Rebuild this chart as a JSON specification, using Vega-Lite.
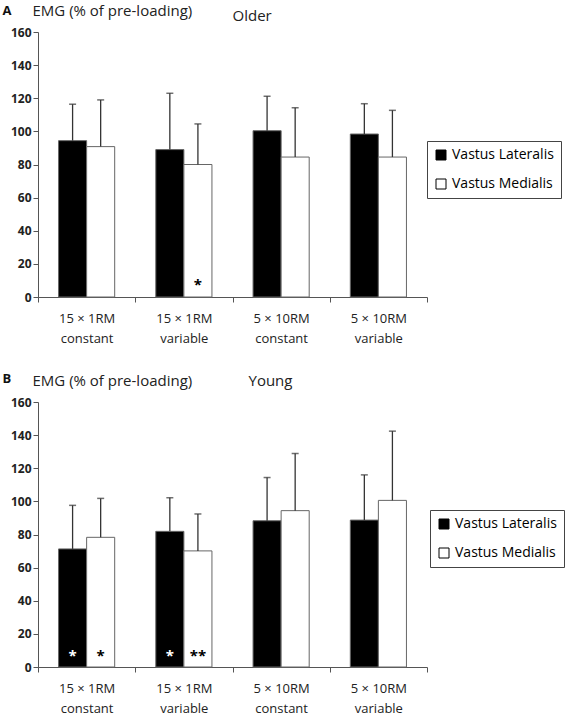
{
  "$schema": "https://vega.github.io/schema/vega-lite/v6.json",
  "background": "white",
  "padding": {"left": 2, "top": 3, "right": 0, "bottom": 0},
  "config": {"font": "Open Sans", "view": {"stroke": null}},
  "datasets": {
    "emg": [
      {"panel": "A", "cond": "15 × 1RM|constant", "muscle": "Vastus Lateralis", "mean": 94.4, "upper": 116.4, "sig": ""},
      {"panel": "A", "cond": "15 × 1RM|constant", "muscle": "Vastus Medialis", "mean": 90.8, "upper": 119.0, "sig": ""},
      {"panel": "A", "cond": "15 × 1RM|variable", "muscle": "Vastus Lateralis", "mean": 89.0, "upper": 123.0, "sig": ""},
      {"panel": "A", "cond": "15 × 1RM|variable", "muscle": "Vastus Medialis", "mean": 80.0, "upper": 104.5, "sig": "*"},
      {"panel": "A", "cond": "5 × 10RM|constant", "muscle": "Vastus Lateralis", "mean": 100.4, "upper": 121.2, "sig": ""},
      {"panel": "A", "cond": "5 × 10RM|constant", "muscle": "Vastus Medialis", "mean": 84.5, "upper": 114.3, "sig": ""},
      {"panel": "A", "cond": "5 × 10RM|variable", "muscle": "Vastus Lateralis", "mean": 98.4, "upper": 116.7, "sig": ""},
      {"panel": "A", "cond": "5 × 10RM|variable", "muscle": "Vastus Medialis", "mean": 84.5, "upper": 112.7, "sig": ""},
      {"panel": "B", "cond": "15 × 1RM|constant", "muscle": "Vastus Lateralis", "mean": 71.3, "upper": 97.6, "sig": "*"},
      {"panel": "B", "cond": "15 × 1RM|constant", "muscle": "Vastus Medialis", "mean": 78.3, "upper": 101.8, "sig": "*"},
      {"panel": "B", "cond": "15 × 1RM|variable", "muscle": "Vastus Lateralis", "mean": 81.9, "upper": 102.2, "sig": "*"},
      {"panel": "B", "cond": "15 × 1RM|variable", "muscle": "Vastus Medialis", "mean": 70.1, "upper": 92.4, "sig": "**"},
      {"panel": "B", "cond": "5 × 10RM|constant", "muscle": "Vastus Lateralis", "mean": 88.3, "upper": 114.4, "sig": ""},
      {"panel": "B", "cond": "5 × 10RM|constant", "muscle": "Vastus Medialis", "mean": 94.4, "upper": 128.9, "sig": ""},
      {"panel": "B", "cond": "5 × 10RM|variable", "muscle": "Vastus Lateralis", "mean": 88.7, "upper": 116.0, "sig": ""},
      {"panel": "B", "cond": "5 × 10RM|variable", "muscle": "Vastus Medialis", "mean": 100.6, "upper": 142.4, "sig": ""}
    ]
  },
  "bounds": "flush",
  "spacing": 105,
  "resolve": {"legend": {"fill": "independent"}},
  "vconcat": [
    {
      "width": 389,
      "height": 265,
      "data": {"name": "emg"},
      "transform": [{"filter": "datum.panel == 'A'"}],
      "resolve": {"scale": {"y": "independent"}},
      "encoding": {
        "x": {
          "field": "cond", "type": "nominal",
          "sort": ["15 × 1RM|constant", "15 × 1RM|variable", "5 × 10RM|constant", "5 × 10RM|variable"],
          "scale": {"paddingInner": 0, "paddingOuter": 0},
          "axis": {"title": "A", "titleX": -36, "titleY": -283, "titleAlign": "left", "titleBaseline": "alphabetic", "titleAngle": 0, "titleFontSize": 13, "titleFontWeight": "bold", "titleColor": "#111",
            "labelAngle": 0, "labelExpr": "split(datum.label, '|')", "labelFontSize": 13, "labelLineHeight": 20, "labelPadding": 10, "labelColor": "#222",
            "tickBand": "extent", "tickSize": 5, "domainColor": "#555", "tickColor": "#555"}
        },
        "xOffset": {"field": "muscle", "type": "nominal", "sort": ["Vastus Lateralis", "Vastus Medialis"], "scale": {"paddingInner": 0, "paddingOuter": 0.732}}
      },
      "layer": [
        {
          "mark": {"type": "bar", "stroke": "#666", "strokeWidth": 1},
          "encoding": {
            "y": {"field": "mean", "type": "quantitative", "scale": {"domain": [0, 160]},
              "axis": {"title": "EMG (% of pre-loading)", "titleAngle": 0, "titleX": -6, "titleY": -17, "titleAlign": "left", "titleBaseline": "alphabetic", "titleFontSize": 15, "titleFontWeight": "normal", "titleColor": "#222",
                "values": [0, 20, 40, 60, 80, 100, 120, 140, 160], "labelOverlap": false, "grid": false, "labelFontWeight": "bold", "labelFontSize": 12, "labelColor": "#222", "tickSize": 5, "domainColor": "#555", "tickColor": "#555"}},
            "fill": {"field": "muscle", "type": "nominal", "scale": {"domain": ["Vastus Lateralis", "Vastus Medialis"], "range": ["black", "white"]},
              "legend": {"title": null, "orient": "none", "legendX": 389, "legendY": 109, "strokeColor": "#444", "fillColor": "white", "padding": 7, "symbolType": "square", "symbolSize": 100, "symbolStrokeColor": "black", "symbolStrokeWidth": 1, "labelFontSize": 14, "labelColor": "black", "rowPadding": 15, "labelOffset": 4}}
          }
        },
        {
          "mark": {"type": "rule", "color": "#333", "strokeWidth": 1.3},
          "encoding": {"y": {"field": "mean", "type": "quantitative", "scale": {"domain": [0, 160]}, "axis": null}, "y2": {"field": "upper"}}
        },
        {
          "mark": {"type": "tick", "color": "#333", "thickness": 1.5, "size": 7},
          "encoding": {"y": {"field": "upper", "type": "quantitative", "scale": {"domain": [0, 160]},
            "axis": {"orient": "right", "title": "Older", "domain": false, "ticks": false, "labels": false, "grid": false, "titleAngle": 0, "titleX": -195, "titleY": -12, "titleAlign": "left", "titleBaseline": "alphabetic", "titleFontSize": 15, "titleFontWeight": "normal", "titleColor": "#222"}}}
        },
        {
          "transform": [{"filter": "datum.sig != ''"}],
          "mark": {"type": "text", "baseline": "alphabetic", "dy": -7, "fontSize": 15, "fontWeight": "bold"},
          "encoding": {
            "y": {"datum": 0, "type": "quantitative", "scale": {"domain": [0, 160]}, "axis": null},
            "text": {"field": "sig"},
            "color": {"condition": {"test": "datum.muscle == 'Vastus Lateralis'", "value": "white"}, "value": "black"}
          }
        }
      ]
    },
    {
      "width": 389,
      "height": 265,
      "data": {"name": "emg"},
      "transform": [{"filter": "datum.panel == 'B'"}],
      "resolve": {"scale": {"y": "independent"}},
      "encoding": {
        "x": {
          "field": "cond", "type": "nominal",
          "sort": ["15 × 1RM|constant", "15 × 1RM|variable", "5 × 10RM|constant", "5 × 10RM|variable"],
          "scale": {"paddingInner": 0, "paddingOuter": 0},
          "axis": {"title": "B", "titleX": -36, "titleY": -285, "titleAlign": "left", "titleBaseline": "alphabetic", "titleAngle": 0, "titleFontSize": 13, "titleFontWeight": "bold", "titleColor": "#111",
            "labelAngle": 0, "labelExpr": "split(datum.label, '|')", "labelFontSize": 13, "labelLineHeight": 20, "labelPadding": 10, "labelColor": "#222",
            "tickBand": "extent", "tickSize": 5, "domainColor": "#555", "tickColor": "#555"}
        },
        "xOffset": {"field": "muscle", "type": "nominal", "sort": ["Vastus Lateralis", "Vastus Medialis"], "scale": {"paddingInner": 0, "paddingOuter": 0.732}}
      },
      "layer": [
        {
          "mark": {"type": "bar", "stroke": "#666", "strokeWidth": 1},
          "encoding": {
            "y": {"field": "mean", "type": "quantitative", "scale": {"domain": [0, 160]},
              "axis": {"title": "EMG (% of pre-loading)", "titleAngle": 0, "titleX": -6, "titleY": -17, "titleAlign": "left", "titleBaseline": "alphabetic", "titleFontSize": 15, "titleFontWeight": "normal", "titleColor": "#222",
                "values": [0, 20, 40, 60, 80, 100, 120, 140, 160], "labelOverlap": false, "grid": false, "labelFontWeight": "bold", "labelFontSize": 12, "labelColor": "#222", "tickSize": 5, "domainColor": "#555", "tickColor": "#555"}},
            "fill": {"field": "muscle", "type": "nominal", "scale": {"domain": ["Vastus Lateralis", "Vastus Medialis"], "range": ["black", "white"]},
              "legend": {"title": null, "orient": "none", "legendX": 392, "legendY": 108, "strokeColor": "#444", "fillColor": "white", "padding": 7, "symbolType": "square", "symbolSize": 100, "symbolStrokeColor": "black", "symbolStrokeWidth": 1, "labelFontSize": 14, "labelColor": "black", "rowPadding": 15, "labelOffset": 4}}
          }
        },
        {
          "mark": {"type": "rule", "color": "#333", "strokeWidth": 1.3},
          "encoding": {"y": {"field": "mean", "type": "quantitative", "scale": {"domain": [0, 160]}, "axis": null}, "y2": {"field": "upper"}}
        },
        {
          "mark": {"type": "tick", "color": "#333", "thickness": 1.5, "size": 7},
          "encoding": {"y": {"field": "upper", "type": "quantitative", "scale": {"domain": [0, 160]},
            "axis": {"orient": "right", "title": "Young", "domain": false, "ticks": false, "labels": false, "grid": false, "titleAngle": 0, "titleX": -179, "titleY": -17, "titleAlign": "left", "titleBaseline": "alphabetic", "titleFontSize": 15, "titleFontWeight": "normal", "titleColor": "#222"}}}
        },
        {
          "transform": [{"filter": "datum.sig != ''"}],
          "mark": {"type": "text", "baseline": "alphabetic", "dy": -6, "fontSize": 15, "fontWeight": "bold"},
          "encoding": {
            "y": {"datum": 0, "type": "quantitative", "scale": {"domain": [0, 160]}, "axis": null},
            "text": {"field": "sig"},
            "color": {"condition": {"test": "datum.muscle == 'Vastus Lateralis'", "value": "white"}, "value": "black"}
          }
        }
      ]
    }
  ]
}
